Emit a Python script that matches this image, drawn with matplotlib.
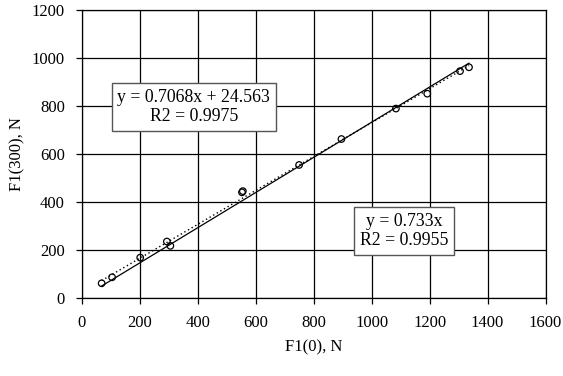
import numpy as np
import matplotlib
matplotlib.use("Agg")
import matplotlib.pyplot as plt

plt.rcParams['font.family'] = ['Liberation Serif', 'DejaVu Serif']

# measured forces
f1_0 = [69, 105, 202, 294, 306, 553, 556, 750, 896, 1084, 1192, 1305, 1336]
f1_300 = [62, 87, 169, 236, 218, 441, 446, 555, 663, 790, 852, 946, 962]

# trend lines (from the chart labels)
slope_origin = 0.733
r2_origin = 0.9955
slope_lin = 0.7068
icpt_lin = 24.563
r2_lin = 0.9975

fig = plt.figure(figsize=(5.63, 3.76), dpi=100)
ax = fig.add_axes([0.145, 0.207, 0.824, 0.766])

xs = np.array([min(f1_0), max(f1_0)])
ax.plot(xs, slope_origin * xs, color='black', lw=0.9, zorder=3)
ax.plot(xs, slope_lin * xs + icpt_lin, color='black', lw=1.0, ls=(0, (1, 2)), zorder=3)
ax.scatter(f1_0, f1_300, s=22, facecolors='none', edgecolors='black', linewidths=0.9, zorder=4)

ax.set_xlim(0, 1600)
ax.set_ylim(0, 1200)
ax.set_xticks(range(0, 1601, 200))
ax.set_yticks(range(0, 1201, 200))
ax.grid(True, color='black', lw=0.9)
ax.set_axisbelow(True)
for s in ax.spines.values():
    s.set_color('black')
    s.set_linewidth(0.9)
ax.tick_params(direction='out', length=4, width=0.9, labelsize=12, colors='black', pad=8)

ax.set_xlabel('F1(0), N', fontsize=12, labelpad=6)
ax.set_ylabel('F1(300), N', fontsize=12, labelpad=5)

box = dict(boxstyle='square,pad=0.3', facecolor='white', edgecolor='#555555', lw=1)
ax.text(387, 797, 'y = %.4fx + %.3f\nR2 = %.4f' % (slope_lin, icpt_lin, r2_lin),
        ha='center', va='center', fontsize=12.8, linespacing=1.2, bbox=box, zorder=5)
ax.text(1112, 280, 'y = %.3fx\nR2 = %.4f' % (slope_origin, r2_origin),
        ha='center', va='center', fontsize=12.8, linespacing=1.2, bbox=box, zorder=5)

fig.savefig('out.png', dpi=100)
